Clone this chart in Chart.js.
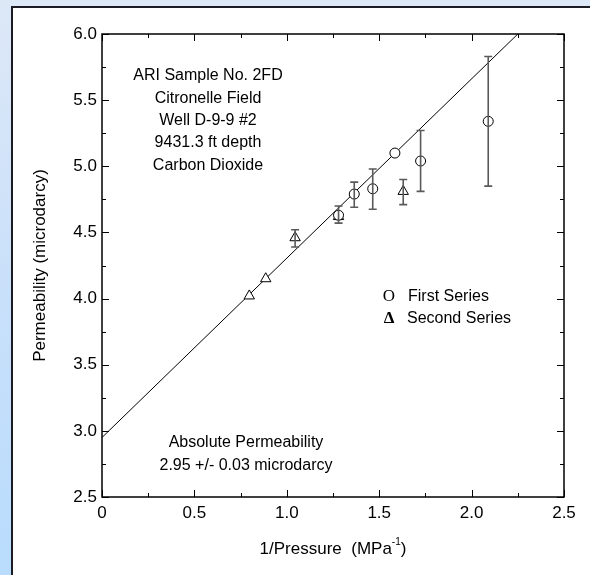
<!DOCTYPE html>
<html>
<head>
<meta charset="utf-8">
<script src="https://cdn.jsdelivr.net/npm/chart.js@4.4.0/dist/chart.umd.min.js"></script>
<style>
  html, body { margin: 0; padding: 0; }
  body {
    width: 590px; height: 575px; overflow: hidden; position: relative;
    background: linear-gradient(to bottom, #dde8f7 0%, #c9e0fa 50%, #b9dcfd 100%);
  }
  #panel {
    position: absolute; left: 11px; top: 6px; width: 600px; height: 600px;
    background: #fff; border-left: 2px solid #1b1b24; border-top: 2px solid #1b1b24;
  }
  #wrap { position: absolute; left: 0; top: 0; width: 590px; height: 575px; }
</style>
</head>
<body>
<div id="panel"></div>
<div id="wrap"><canvas id="chart" width="590" height="575"></canvas></div>
<script>
// first series (circles)
const firstX = [1.28, 1.365, 1.465, 1.585, 1.724, 2.09];
const firstY = [4.63, 4.79, 4.83, 5.10, 5.04, 5.34];
const firstErrLow = [null, 4.69, 4.675, null, 4.81, 4.85];
const firstErrHigh = [null, 4.88, 4.98, null, 5.27, 5.83];

// second series (triangles)
const secondX = [0.797, 0.886, 1.045, 1.28, 1.63];
const secondY = [4.02, 4.15, 4.46, 4.62, 4.81];
const secondErrLow = [null, null, 4.39, 4.57, 4.71];
const secondErrHigh = [null, null, 4.52, 4.70, 4.90];

// fitted line
const fitX = [0, 2.25];
const fitY = [2.95, 6.0];

const xTicks = [0, 0.5, 1.0, 1.5, 2.0, 2.5];
const yTicks = [2.5, 3.0, 3.5, 4.0, 4.5, 5.0, 5.5, 6.0];

const infoLines = ['ARI Sample No. 2FD', 'Citronelle Field', 'Well D-9-9 #2', '9431.3 ft depth', 'Carbon Dioxide'];
const absLines = ['Absolute Permeability', '2.95 +/- 0.03 microdarcy'];

const FONT = 'Liberation Sans, Arial, sans-serif';

const toPts = (xs, ys) => xs.map((x, i) => ({ x: x, y: ys[i] }));

const errorBars = {
    id: 'errorBars',
    afterDatasetsDraw(chart) {
        const ctx = chart.ctx;
        const xs = chart.scales.x, ys = chart.scales.y;
        const sets = [[firstX, firstErrLow, firstErrHigh], [secondX, secondErrLow, secondErrHigh]];
        ctx.save();
        ctx.strokeStyle = '#5a5a5a';
        ctx.lineWidth = 1.6;
        sets.forEach(([xv, lo, hi]) => {
            xv.forEach((x, i) => {
                if (lo[i] == null) return;
                const px = xs.getPixelForValue(x);
                const p1 = ys.getPixelForValue(lo[i]);
                const p2 = ys.getPixelForValue(hi[i]);
                ctx.beginPath();
                ctx.moveTo(px, p1); ctx.lineTo(px, p2);
                ctx.moveTo(px - 4, p1); ctx.lineTo(px + 4, p1);
                ctx.moveTo(px - 4, p2); ctx.lineTo(px + 4, p2);
                ctx.stroke();
            });
        });
        ctx.restore();
    }
};

const frame = {
    id: 'frame',
    afterDraw(chart) {
        const ctx = chart.ctx;
        const a = chart.chartArea;
        const xs = chart.scales.x, ys = chart.scales.y;
        ctx.save();
        ctx.strokeStyle = '#000';
        ctx.lineWidth = 1.5;
        ctx.strokeRect(a.left, a.top, a.right - a.left, a.bottom - a.top);
        ctx.lineWidth = 1;
        ctx.beginPath();
        // inward ticks on all four sides, minor every 0.25
        for (let v = 0; v <= 2.5001; v += 0.25) {
            const px = Math.round(xs.getPixelForValue(v)) + 0.5;
            const len = Math.abs((v * 2) % 1) < 1e-6 ? 7 : 4;
            ctx.moveTo(px, a.bottom); ctx.lineTo(px, a.bottom - len);
            ctx.moveTo(px, a.top); ctx.lineTo(px, a.top + len);
        }
        for (let v = 2.5; v <= 6.0001; v += 0.25) {
            const py = Math.round(ys.getPixelForValue(v)) + 0.5;
            const len = Math.abs((v * 2) % 1) < 1e-6 ? 7 : 4;
            ctx.moveTo(a.left, py); ctx.lineTo(a.left + len, py);
            ctx.moveTo(a.right, py); ctx.lineTo(a.right - len, py);
        }
        ctx.stroke();

        // text notes
        ctx.fillStyle = '#000';
        ctx.textAlign = 'center';
        ctx.textBaseline = 'middle';
        ctx.font = '16px ' + FONT;
        infoLines.forEach((t, i) => ctx.fillText(t, 208, 76 + i * 22.3));
        absLines.forEach((t, i) => ctx.fillText(t, 246, 443 + i * 22.5));

        // legend
        ctx.textAlign = 'left';
        ctx.fillText('First Series', 408, 297);
        ctx.fillText('Second Series', 407, 319);
        ctx.textAlign = 'center';
        ctx.font = '17px Liberation Serif, Times New Roman, serif';
        ctx.fillText('O', 389, 297);
        ctx.font = 'bold 17px Liberation Serif, Times New Roman, serif';
        ctx.fillText('\u0394', 389, 319);

        // x axis title with superscript
        ctx.font = '17px ' + FONT;
        ctx.textAlign = 'left';
        const main = '1/Pressure  (MPa';
        const wMain = ctx.measureText(main).width;
        ctx.font = '10px ' + FONT;
        const wSup = ctx.measureText('-1').width;
        ctx.font = '17px ' + FONT;
        const wEnd = ctx.measureText(')').width;
        const total = wMain + wSup + wEnd;
        const cx = (a.left + a.right) / 2;
        let x0 = cx - total / 2;
        ctx.fillText(main, x0, 549);
        ctx.font = '10px ' + FONT;
        ctx.fillText('-1', x0 + wMain, 542);
        ctx.font = '17px ' + FONT;
        ctx.fillText(')', x0 + wMain + wSup, 549);
        ctx.restore();
    }
};

new Chart(document.getElementById('chart'), {
    type: 'scatter',
    data: {
        datasets: [
            {
                label: 'Fit',
                type: 'line',
                data: toPts(fitX, fitY),
                borderColor: '#000',
                borderWidth: 1,
                pointRadius: 0,
                fill: false,
                order: 3
            },
            {
                label: 'First Series',
                data: toPts(firstX, firstY),
                pointStyle: 'circle',
                pointRadius: 5,
                backgroundColor: '#fff',
                borderColor: '#000',
                borderWidth: 1,
                order: 1
            },
            {
                label: 'Second Series',
                data: toPts(secondX, secondY),
                pointStyle: 'triangle',
                pointRadius: 6,
                backgroundColor: '#fff',
                borderColor: '#000',
                borderWidth: 1,
                order: 2
            }
        ]
    },
    options: {
        responsive: false,
        animation: false,
        layout: { padding: { top: 34, right: 26, left: 0, bottom: 0 } },
        plugins: {
            legend: { display: false },
            tooltip: { enabled: false }
        },
        scales: {
            x: {
                type: 'linear',
                min: 0, max: 2.5,
                afterBuildTicks: s => { s.ticks = xTicks.map(v => ({ value: v })); },
                afterFit: s => { s.height = 78; },
                grid: { display: false, drawTicks: false },
                border: { display: false },
                ticks: {
                    padding: 6,
                    color: '#000',
                    font: { family: FONT, size: 17 },
                    callback: v => v === 0 ? '0' : v.toFixed(1)
                }
            },
            y: {
                type: 'linear',
                min: 2.5, max: 6.0,
                afterBuildTicks: s => { s.ticks = yTicks.map(v => ({ value: v })); },
                afterFit: s => { s.width = 102; },
                grid: { display: false, drawTicks: false },
                border: { display: false },
                ticks: {
                    padding: 5,
                    color: '#000',
                    font: { family: FONT, size: 17 },
                    callback: v => v.toFixed(1)
                },
                title: {
                    display: true,
                    text: 'Permeability (microdarcy)',
                    color: '#000',
                    font: { family: FONT, size: 17 },
                    padding: { top: 30, bottom: 0 }
                }
            }
        }
    },
    plugins: [errorBars, frame]
});
</script>
</body>
</html>
